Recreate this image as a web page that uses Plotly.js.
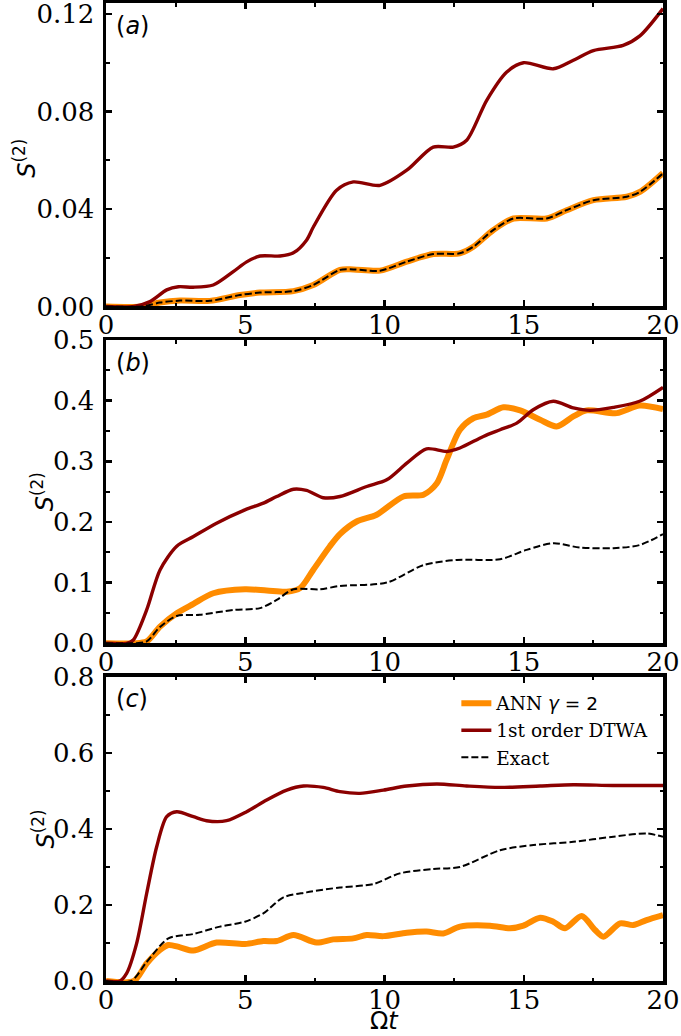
<!DOCTYPE html>
<html>
<head>
<meta charset="utf-8">
<script src="https://cdn.plot.ly/plotly-3.0.1.min.js"></script>
<style>
  html, body { margin: 0; padding: 0; background: #fff; }
  #chart { width: 681px; height: 1036px; }
</style>
</head>
<body>
<div id="chart"></div>
<script>
// ---------- Data ----------
// Panel (a)
const a_dtwa_t = [0, 1.0, 1.58, 2.18, 2.6, 3.13, 3.85, 4.57, 5.05, 5.53, 6.25, 6.73, 7.2, 7.45, 8.28, 8.88, 9.84, 10.8, 11.75, 12.47, 12.95, 13.67, 14.39, 14.99, 16.06, 16.78, 17.5, 18.57, 19.17, 20];
const a_dtwa_s = [0, 0, 0.002, 0.0068, 0.0081, 0.0079, 0.0088, 0.0143, 0.0183, 0.0207, 0.0207, 0.022, 0.0272, 0.0327, 0.0477, 0.0511, 0.0497, 0.0559, 0.0654, 0.0654, 0.0682, 0.0846, 0.0962, 0.1000, 0.0975, 0.101, 0.105, 0.1071, 0.111, 0.1222];
const a_ann_t = [0, 1.3, 1.94, 2.66, 3.73, 4.81, 5.53, 6.73, 7.44, 8.4, 8.88, 9.84, 10.8, 11.75, 12.7, 13.19, 13.9, 14.63, 15.82, 16.54, 17.5, 18.7, 19.17, 20];
const a_ann_s = [0, 0, 0.0016, 0.0024, 0.0023, 0.0047, 0.0057, 0.0063, 0.0088, 0.0150, 0.0152, 0.0147, 0.0184, 0.0215, 0.0218, 0.0245, 0.0313, 0.0361, 0.0361, 0.0395, 0.0436, 0.045, 0.047, 0.0548];
const a_exact_t = [0, 1.3, 1.94, 2.66, 3.73, 4.81, 5.53, 6.73, 7.44, 8.4, 8.88, 9.84, 10.8, 11.75, 12.7, 13.19, 13.9, 14.63, 15.82, 16.54, 17.5, 18.7, 19.17, 20];
const a_exact_s = [0, 0, 0.0016, 0.0024, 0.0023, 0.0047, 0.0057, 0.0063, 0.0088, 0.0150, 0.0152, 0.0147, 0.0184, 0.0215, 0.0218, 0.0245, 0.0313, 0.0361, 0.0361, 0.0395, 0.0436, 0.045, 0.047, 0.0546];

// Panel (b)
const b_dtwa_t = [0, 0.74, 0.98, 1.46, 1.94, 2.54, 3.14, 3.97, 4.99, 5.65, 6.13, 6.73, 7.2, 7.8, 8.4, 9.36, 10.08, 10.8, 11.51, 12.23, 12.71, 13.55, 14.15, 14.75, 15.34, 16.06, 16.78, 17.38, 18.22, 19.16, 20];
const b_dtwa_s = [0, 0, 0.0055, 0.055, 0.121, 0.16, 0.176, 0.198, 0.22, 0.231, 0.242, 0.254, 0.252, 0.240, 0.242, 0.2585, 0.2695, 0.297, 0.3207, 0.3163, 0.322, 0.341, 0.352, 0.363, 0.385, 0.399, 0.388, 0.384, 0.389, 0.399, 0.422];
const b_ann_t = [0, 1.0, 1.46, 1.94, 2.54, 3.14, 3.85, 4.99, 5.77, 6.49, 6.97, 7.44, 8.04, 8.4, 9.0, 9.72, 10.68, 11.4, 11.88, 12.23, 12.71, 13.19, 13.67, 14.27, 14.87, 15.59, 16.18, 16.78, 17.26, 18.34, 19.16, 20];
const b_ann_s = [0, 0, 0.003, 0.0275, 0.0495, 0.065, 0.0825, 0.089, 0.087, 0.085, 0.091, 0.121, 0.16, 0.18, 0.2008, 0.212, 0.242, 0.245, 0.264, 0.3025, 0.352, 0.371, 0.377, 0.389, 0.384, 0.3685, 0.3575, 0.374, 0.384, 0.3795, 0.392, 0.386];
const b_exact_t = [0, 1.0, 1.46, 1.94, 2.54, 3.37, 4.57, 5.53, 6.13, 6.73, 7.68, 8.4, 10.08, 11.4, 12.6, 14.15, 15.1, 16.06, 17.0, 18.22, 19.16, 20];
const b_exact_s = [0, 0, 0.003, 0.027, 0.045, 0.047, 0.055, 0.058, 0.0715, 0.089, 0.089, 0.0945, 0.1001, 0.129, 0.1375, 0.1386, 0.154, 0.165, 0.158, 0.1568, 0.162, 0.18];

// Panel (c)
const c_dtwa_t = [0, 0.5, 0.74, 1.1, 1.46, 1.82, 2.18, 2.54, 3.14, 3.61, 4.33, 5.05, 5.77, 6.49, 7.09, 7.8, 8.4, 9.12, 9.96, 10.8, 11.88, 12.95, 14.15, 15.59, 16.78, 18.2, 20];
const c_dtwa_s = [0, 0, 0.02, 0.099, 0.23, 0.353, 0.432, 0.445, 0.432, 0.4215, 0.4215, 0.445, 0.476, 0.502, 0.5127, 0.509, 0.498, 0.4934, 0.502, 0.5127, 0.518, 0.5127, 0.509, 0.5127, 0.516, 0.514, 0.514];
const c_ann_t = [0, 1.0, 1.46, 1.94, 2.24, 2.66, 3.14, 3.97, 4.99, 5.65, 6.13, 6.73, 7.56, 8.16, 8.88, 9.36, 9.96, 10.8, 11.51, 12.11, 12.71, 13.79, 14.51, 14.99, 15.59, 16.06, 16.48, 17.08, 17.56, 17.86, 18.46, 18.93, 19.41, 20];
const c_ann_s = [0, 0, 0.046, 0.0815, 0.0947, 0.0885, 0.08, 0.101, 0.0973, 0.105, 0.105, 0.121, 0.101, 0.1095, 0.112, 0.121, 0.118, 0.127, 0.13, 0.125, 0.143, 0.1455, 0.1385, 0.1455, 0.1665, 0.156, 0.1385, 0.171, 0.134, 0.1166, 0.1516, 0.147, 0.160, 0.173];
const c_exact_t = [0, 0.9, 1.46, 2.24, 3.14, 4.09, 4.99, 5.65, 6.37, 7.2, 8.4, 9.6, 10.55, 11.76, 12.71, 14.15, 15.35, 16.78, 18.22, 19.41, 20];
const c_exact_s = [0, 0, 0.05, 0.112, 0.1236, 0.143, 0.156, 0.178, 0.22, 0.233, 0.246, 0.255, 0.283, 0.2945, 0.30, 0.344, 0.3576, 0.366, 0.3795, 0.388, 0.379];

const seriesNames = ["ANN <span style='font-family:DejaVu Sans'><i>γ</i> = 2</span>", "1st order DTWA", "Exact"];
const panelLabels = ["(<i>a</i>)", "(<i>b</i>)", "(<i>c</i>)"];
const xTickVals = [0, 5, 10, 15, 20];
const yLabel = "<i>S</i><sup>(2)</sup>";
const xLabel = "Ω<i>t</i>";

// ---------- Styles ----------
const ORANGE = "#FF8C00", DARKRED = "#8B0000";
const annLine = {color: ORANGE, width: 6, shape: "spline", smoothing: 0.8};
const dtwaLine = {color: DARKRED, width: 3.4, shape: "spline", smoothing: 0.8};
const exactLine = {color: "#000", width: 2, dash: "7px,3px", shape: "spline", smoothing: 0.8};

const panels = [
  {ann: [a_ann_t, a_ann_s], dtwa: [a_dtwa_t, a_dtwa_s], exact: [a_exact_t, a_exact_s]},
  {ann: [b_ann_t, b_ann_s], dtwa: [b_dtwa_t, b_dtwa_s], exact: [b_exact_t, b_exact_s]},
  {ann: [c_ann_t, c_ann_s], dtwa: [c_dtwa_t, c_dtwa_s], exact: [c_exact_t, c_exact_s]}
];

const traces = [];
panels.forEach((p, i) => {
  const xa = i === 0 ? "x" : "x" + (i + 1);
  const ya = i === 0 ? "y" : "y" + (i + 1);
  const show = i === 2;
  traces.push({x: p.ann[0], y: p.ann[1], xaxis: xa, yaxis: ya, mode: "lines", line: annLine, name: seriesNames[0], showlegend: show, hoverinfo: "skip"});
  traces.push({x: p.dtwa[0], y: p.dtwa[1], xaxis: xa, yaxis: ya, mode: "lines", line: dtwaLine, name: seriesNames[1], showlegend: show, hoverinfo: "skip"});
  traces.push({x: p.exact[0], y: p.exact[1], xaxis: xa, yaxis: ya, mode: "lines", line: exactLine, name: seriesNames[2], showlegend: show, hoverinfo: "skip"});
});

const tickFont = {family: "DejaVu Serif", size: 26, color: "#000"};
function xAxis(anchor) {
  return {
    anchor: anchor, domain: [0, 1], range: [0, 20],
    tickvals: xTickVals, ticks: "inside", ticklen: 6, tickwidth: 2.5, tickcolor: "#000",
    minor: {dtick: 2.5, tick0: 0, ticks: "inside", ticklen: 3.5, tickwidth: 2, tickcolor: "#000"},
    showline: true, linewidth: 3.5, linecolor: "#000", mirror: "ticks",
    showgrid: false, zeroline: false, tickfont: tickFont, fixedrange: true,
    ticklabeloverflow: "allow", ticklabelstandoff: -7
  };
}
function yAxis(anchor, domain, range, dtick, fmt) {
  return {
    anchor: anchor, domain: domain, range: range,
    tick0: 0, dtick: dtick, tickformat: fmt, ticks: "inside", ticklen: 6, tickwidth: 2.5, tickcolor: "#000",
    minor: {dtick: dtick / 2, tick0: 0, ticks: "inside", ticklen: 3.5, tickwidth: 2, tickcolor: "#000"},
    showline: true, linewidth: 3.5, linecolor: "#000", mirror: "ticks",
    showgrid: false, zeroline: false, tickfont: tickFont, fixedrange: true,
    ticklabeloverflow: "allow", ticklabelstandoff: 3
  };
}

const annotations = [];
const labelY = [0.9226, 0.924, 0.926];
panelLabels.forEach((t, i) => {
  const s = i === 0 ? "" : String(i + 1);
  annotations.push({
    text: t, xref: "x" + s + " domain", yref: "y" + s + " domain",
    x: 0.014, y: labelY[i], xanchor: "left", yanchor: "middle", showarrow: false,
    font: {family: "DejaVu Sans", size: 24, color: "#000"}
  });
});
const yLabelPos = [[-0.146, 0.8414], [-0.113, 0.4999], [-0.113, 0.1549]];
yLabelPos.forEach(p => {
  annotations.push({
    text: yLabel, xref: "paper", yref: "paper", x: p[0], y: p[1],
    xanchor: "center", yanchor: "middle", textangle: -90, showarrow: false,
    font: {family: "DejaVu Sans", size: 24, color: "#000"}
  });
});
annotations.push({
  text: xLabel, xref: "paper", yref: "paper", x: 0.5, y: -0.0409,
  xanchor: "center", yanchor: "middle", showarrow: false, borderpad: 0,
  font: {family: "DejaVu Sans", size: 24, color: "#000"}
});

const layout = {
  width: 681, height: 1036,
  margin: {l: 106, r: 18, t: 3, b: 55, pad: 0},
  paper_bgcolor: "#fff", plot_bgcolor: "#fff",
  showlegend: true,
  legend: {
    x: 0.629, y: 0.303, xanchor: "left", yanchor: "top",
    bgcolor: "rgba(0,0,0,0)", borderwidth: 0,
    font: {family: "DejaVu Serif", size: 18.5, color: "#000"}
  },
  xaxis: xAxis("y"),
  xaxis2: xAxis("y2"),
  xaxis3: xAxis("y3"),
  yaxis: yAxis("x", [0.6897, 1], [0, 0.1245], 0.04, ".2f"),
  yaxis2: yAxis("x2", [0.3453, 0.6554], [0, 0.5], 0.1, ".1f"),
  yaxis3: yAxis("x3", [0, 0.3111], [0, 0.8], 0.2, ".1f"),
  annotations: annotations
};

Plotly.newPlot("chart", traces, layout, {displayModeBar: false, staticPlot: true});
</script>
</body>
</html>
